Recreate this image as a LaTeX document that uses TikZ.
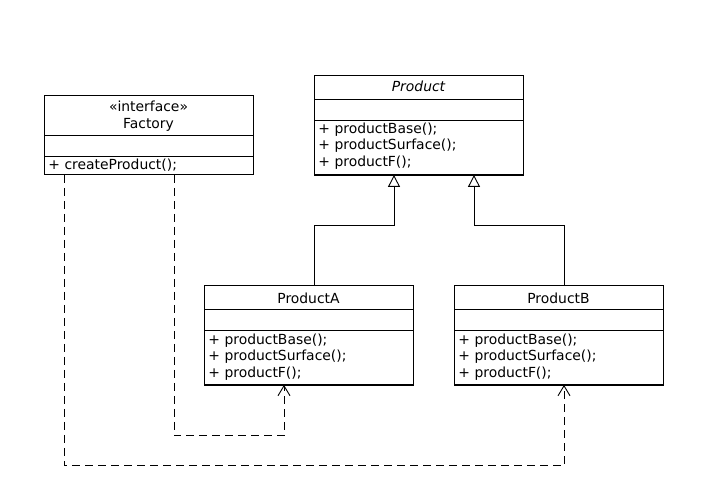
\documentclass[tikz,border=0pt]{standalone}
\usepackage{fontspec}
\setmainfont{DejaVu Sans}
\usetikzlibrary{arrows.meta,calc}
\begin{document}
\begin{tikzpicture}[x=1pt,y=-1pt,line width=0.9pt,
  cls/.style={draw,anchor=north west,inner sep=0pt,minimum width=209pt},
  txt/.style={anchor=base west,inner sep=0pt,font=\fontsize{13.9}{17}\selectfont},
  ctxt/.style={anchor=base,inner sep=0pt,font=\fontsize{13.9}{17}\selectfont},
  inherit/.style={-{Triangle[open,length=12pt,width=12pt,fill=white]}},
  dep/.style={dash pattern=on 8pt off 5pt,-{Straight Barb[length=10pt,width=12pt]}}]
\useasboundingbox (0,0) rectangle (727,494);
% Factory
\node[cls,minimum height=79pt] (fac) at (44,95) {};
\draw ($(fac.north west)+(0,40)$) -- ($(fac.north east)+(0,40)$);
\draw ($(fac.north west)+(0,61)$) -- ($(fac.north east)+(0,61)$);
\node[ctxt] (facs) at (148.5,112) {«interface»};
\node[ctxt] (facn) at (148.5,129) {Factory};
\node[txt] (facm) at (48,170) {+ createProduct();};
% Product
\node[cls,minimum height=99pt] (prod) at (314,75) {};
\draw ($(prod.north west)+(0,24)$) -- ($(prod.north east)+(0,24)$);
\draw ($(prod.north west)+(0,45)$) -- ($(prod.north east)+(0,45)$);
\draw[line width=1.6pt] ($(prod.south west)+(0,0.4)$) -- ($(prod.south east)+(0,0.4)$);
\node[ctxt,font=\fontsize{13.9}{17}\selectfont\itshape] (prodn) at (418.5,92) {Product};
\node[txt] (prodm1) at (318,134) {+ productBase();};
\node[txt] (prodm2) at (318,150) {+ productSurface();};
\node[txt] (prodm3) at (318,167) {+ productF();};
% ProductA
\node[cls,minimum height=99pt] (pa) at (204,285) {};
\draw ($(pa.north west)+(0,24)$) -- ($(pa.north east)+(0,24)$);
\draw ($(pa.north west)+(0,45)$) -- ($(pa.north east)+(0,45)$);
\draw[line width=1.6pt] ($(pa.south west)+(0,0.4)$) -- ($(pa.south east)+(0,0.4)$);
\node[ctxt] (pan) at (308.5,303) {ProductA};
\node[txt] (pam1) at (208,344) {+ productBase();};
\node[txt] (pam2) at (208,360) {+ productSurface();};
\node[txt] (pam3) at (208,377) {+ productF();};
% ProductB
\node[cls,minimum height=99pt] (pb) at (454,285) {};
\draw ($(pb.north west)+(0,24)$) -- ($(pb.north east)+(0,24)$);
\draw ($(pb.north west)+(0,45)$) -- ($(pb.north east)+(0,45)$);
\draw[line width=1.6pt] ($(pb.south west)+(0,0.4)$) -- ($(pb.south east)+(0,0.4)$);
\node[ctxt] (pbn) at (558.5,303) {ProductB};
\node[txt] (pbm1) at (458,344) {+ productBase();};
\node[txt] (pbm2) at (458,360) {+ productSurface();};
\node[txt] (pbm3) at (458,377) {+ productF();};
% connection points
\coordinate (pinA) at ($(prod.south west)+(80,0)$);
\coordinate (pinB) at ($(prod.south west)+(160,0)$);
\coordinate (paTop) at ($(pa.north west)+(110,0)$);
\coordinate (pbTop) at ($(pb.north west)+(110,0)$);
\coordinate (fa1) at ($(fac.south west)+(130,0)$);
\coordinate (fa2) at ($(fac.south west)+(20,0)$);
\coordinate (paIn) at ($(pa.south west)+(80,0)$);
\coordinate (pbIn) at ($(pb.south west)+(110,0)$);
% inheritance
\draw[inherit] (paTop) -- ++(0,-60) -| (pinA);
\draw[inherit] (pbTop) -- ++(0,-60) -| (pinB);
% dependencies
\draw[dep] (fa1) -- ++(0,261) -| (paIn);
\draw[dep] (fa2) -- ++(0,291) -| (pbIn);
\end{tikzpicture}
\end{document}
